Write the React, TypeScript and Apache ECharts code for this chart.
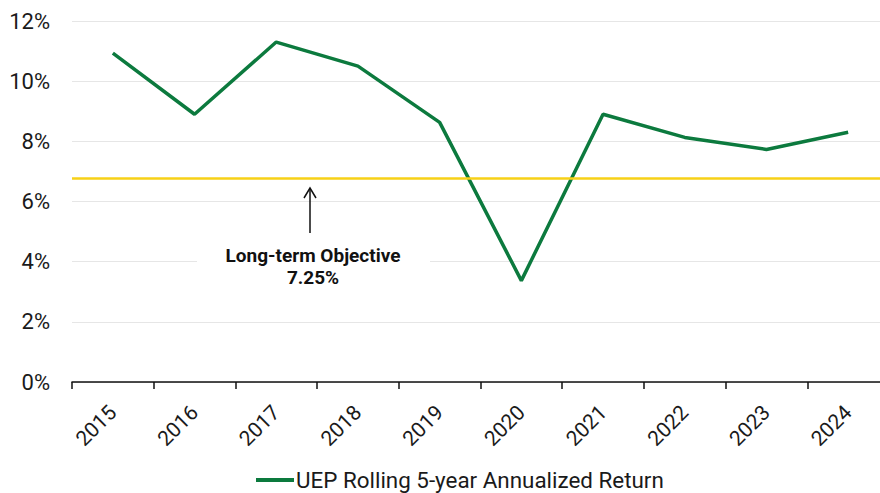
import React, { useEffect, useRef } from "react";
import * as echarts from "echarts";

const years = ["2015", "2016", "2017", "2018", "2019", "2020", "2021", "2022", "2023", "2024"];
const rollingReturn = [10.93, 8.9, 11.3, 10.5, 8.63, 3.37, 8.9, 8.13, 7.73, 8.3];
const objectiveLevel = 6.77;
const seriesName = "UEP Rolling 5-year Annualized Return";
const annotationLines = ["Long-term Objective", "7.25%"];

export default function App() {
  const ref = useRef<HTMLDivElement>(null);
  useEffect(() => {
    document.body.style.margin = "0";
    document.body.style.overflow = "hidden";
    const chart = echarts.init(ref.current!, null, { renderer: "svg" });
    chart.setOption({
      animation: false,
      textStyle: { fontFamily: "Roboto" },
      grid: { left: 72, right: 0, top: 21, bottom: 111, containLabel: false },
      legend: {
        bottom: -3,
        left: 251,
        data: [{ name: seriesName, icon: "rect" }],
        itemWidth: 38,
        itemHeight: 4,
        itemGap: 4,
        textStyle: { fontSize: 22.4, color: "#1a1a1a", fontFamily: "Roboto", padding: [0, 0, 0, -3] },
      },
      xAxis: {
        type: "category",
        data: years,
        boundaryGap: true,
        axisLine: { lineStyle: { color: "#111", width: 1.5 } },
        axisTick: { show: true, length: 7, lineStyle: { color: "#111", width: 1.5 } },
        axisLabel: { rotate: 45, fontSize: 21, color: "#1a1a1a", margin: 27, fontFamily: "Roboto" },
      },
      yAxis: {
        type: "value",
        min: 0,
        max: 12,
        interval: 2,
        axisLine: { show: false },
        axisTick: { show: false },
        splitLine: { lineStyle: { color: "#e6e6e6", width: 1 } },
        axisLabel: { formatter: "{value}%", fontSize: 22, color: "#1a1a1a", margin: 22, fontFamily: "Roboto" },
      },
      series: [
        {
          name: seriesName,
          type: "line",
          data: rollingReturn,
          symbol: "none",
          lineStyle: { color: "#0c7a3e", width: 3.5 },
          itemStyle: { color: "#0c7a3e" },
          markLine: {
            silent: true,
            symbol: "none",
            label: { show: false },
            lineStyle: { color: "#f7d117", width: 2.5, type: "solid" },
            data: [{ yAxis: objectiveLevel }],
          },
        },
      ],
      graphic: [
        { type: "rect", shape: { x: 197, y: 240, width: 233, height: 50 }, style: { fill: "#fff" }, z: 50 },
        {
          type: "text",
          x: 313,
          y: 244,
          style: {
            text: annotationLines.join("\n"),
            font: "bold 19px Roboto",
            fill: "#111",
            align: "center",
            lineHeight: 22,
          },
          z: 51,
        },
        { type: "line", shape: { x1: 310, y1: 233, x2: 310, y2: 188 }, style: { stroke: "#111", lineWidth: 1.5 }, z: 51 },
        {
          type: "polyline",
          shape: { points: [[304, 198], [310, 188], [316, 198]] },
          style: { stroke: "#111", lineWidth: 1.5, fill: "none" },
          z: 51,
        },
      ],
    });
    return () => chart.dispose();
  }, []);
  return <div ref={ref} style={{ width: 889, height: 493 }} />;
}
